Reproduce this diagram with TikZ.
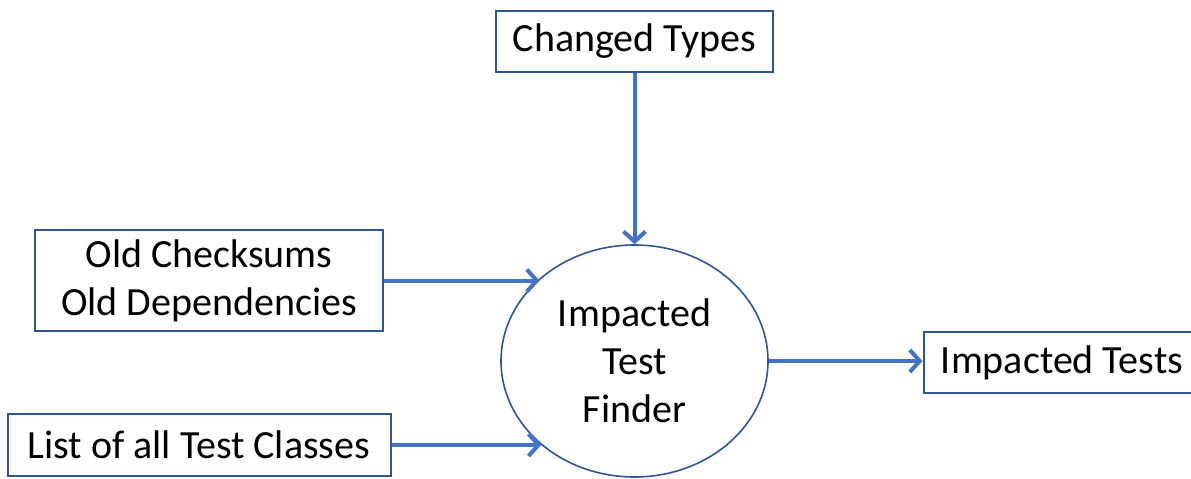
\documentclass[tikz,border=0pt]{standalone}
\usepackage{fontspec}
\setmainfont{Carlito}
\usetikzlibrary{arrows.meta,shapes.geometric,calc}
\definecolor{boxblue}{HTML}{2F5597}
\definecolor{arrblue}{HTML}{4472C4}
\tikzset{
  box/.style={draw=boxblue, line width=1pt, fill=white, inner sep=0pt, align=center,
    font=\fontsize{20}{24}\selectfont},
  proc/.style={ellipse, draw=boxblue, line width=0.8pt, inner sep=0pt, align=center,
    font=\fontsize{20}{24}\selectfont},
  arr/.style={draw=arrblue, line width=2pt, -{Straight Barb[length=5pt,width=11pt,line width=2pt]}}
}
\begin{document}
\begin{tikzpicture}[x=0.5pt,y=-0.5pt]
\useasboundingbox (0,0) rectangle (1191,478);
\clip (0,0) rectangle (1191,478);
\fill[white] (0,0) rectangle (1191,478);
\node[box, minimum width=138.5pt, minimum height=30.5pt] (chg) at (634.5,41) {Changed Types};
\node[box, minimum width=174pt, minimum height=50.5pt] (old) at (209,280.5) {Old Checksums\\Old Dependencies};
\node[box, minimum width=191.5pt, minimum height=31pt] (lst) at (199,445) {List of all Test Classes};
\node[box, minimum width=138.5pt, minimum height=30.5pt] (imp) at (1062,362.5) {Impacted Tests};
\node[proc, minimum width=133.5pt, minimum height=116pt] (ell) at (634.5,361) {Impacted\\Test\\Finder};
\draw[arr] (chg.south) -- (ell.north);
\draw[arr] (old.east) -- (old.east -| ell.139.7);
\draw[arr] (lst.east) -- (lst.east -| ell.222.4);
\draw[arr] (ell.east) -- (ell.east -| imp.west);
\end{tikzpicture}
\end{document}
